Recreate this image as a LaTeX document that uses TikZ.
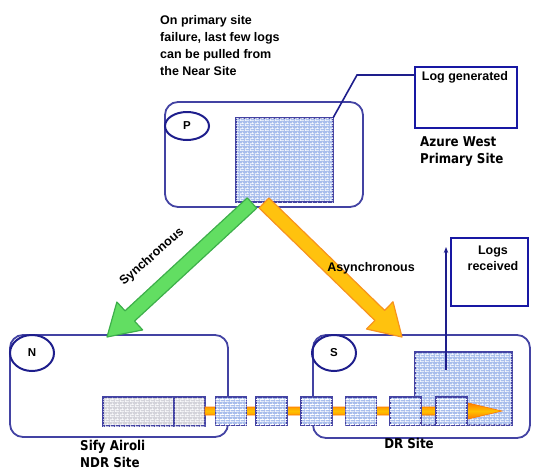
\documentclass[tikz,border=0pt]{standalone}
\usepackage{fontspec}
\setmainfont{Liberation Sans}
\newfontfamily\sitefont{DejaVu Sans}[FakeStretch=0.88]
\usetikzlibrary{shapes.geometric,patterns,calc,arrows.meta}
\definecolor{boxline}{HTML}{4343A3}
\definecolor{navy}{HTML}{1E1E8C}
\definecolor{hatchblue}{HTML}{A9BEEC}
\definecolor{hatchgrey}{HTML}{D3D3DA}
\definecolor{garrow}{HTML}{62DE62}
\definecolor{gline}{HTML}{3DAF4A}
\definecolor{oarrow}{HTML}{FFC20E}
\definecolor{oline}{HTML}{F7931E}
\definecolor{shipout}{HTML}{FF7A00}
\definecolor{shipin}{HTML}{FFC000}
\pgfdeclarepatternformonly{finebricks}{\pgfpointorigin}{\pgfpoint{5pt}{5pt}}{\pgfpoint{5pt}{5pt}}{%
  \pgfsetlinewidth{0.7pt}%
  \pgfpathmoveto{\pgfpoint{0pt}{0.35pt}}\pgfpathlineto{\pgfpoint{5pt}{0.35pt}}%
  \pgfpathmoveto{\pgfpoint{0pt}{2.85pt}}\pgfpathlineto{\pgfpoint{5pt}{2.85pt}}%
  \pgfpathmoveto{\pgfpoint{0.35pt}{0pt}}\pgfpathlineto{\pgfpoint{0.35pt}{2.5pt}}%
  \pgfpathmoveto{\pgfpoint{2.85pt}{2.5pt}}\pgfpathlineto{\pgfpoint{2.85pt}{5pt}}%
  \pgfusepath{stroke}}
\newcommand{\fatarrow}[6]{%
  \draw[#6] ($(#1)!#3!90:(#2)$) -- ($(#2)!#5!(#1)!#3!90:(#2)$) -- ($(#2)!#5!(#1)!#4!90:(#2)$) -- (#2)
   -- ($(#2)!#5!(#1)!#4!-90:(#2)$) -- ($(#2)!#5!(#1)!#3!-90:(#2)$) -- ($(#1)!#3!-90:(#2)$) -- cycle;}
\begin{document}
\begin{tikzpicture}[x=1pt,y=-1pt,
  site/.style={draw=boxline, line width=1.8pt, rounded corners=13pt, inner sep=0, outer sep=0},
  tag/.style={ellipse, draw=navy, line width=2pt, minimum width=44pt, inner sep=0, font=\bfseries\fontsize{11.5}{13}\selectfont},
  store/.style={draw=boxline, line width=1.8pt, fill=hatchblue, inner sep=0, outer sep=0,
     postaction={pattern=finebricks, pattern color=white}},
  greystore/.style={store, fill=hatchgrey},
  logbox/.style={draw=navy!80!blue, line width=2pt, inner sep=0, outer sep=0},
  lbl/.style={font=\bfseries\fontsize{12.5}{16}\selectfont, inner sep=0},
  sitelbl/.style={font=\sitefont\bfseries\fontsize{13.5}{17.5}\selectfont, inner sep=0, align=left},
  link/.style={draw=navy, line width=1.6pt}
]
\useasboundingbox (0,0) rectangle (534,471);

% site boxes
\node[site, minimum width=198pt, minimum height=105pt] (P) at (264,154.5) {};
\node[site, minimum width=218pt, minimum height=102pt] (N) at (119,386) {};
\node[site, minimum width=217pt, minimum height=103pt] (S) at (421.5,386.5) {};
\node[tag, minimum height=28pt] (Pt) at (187,126) {P};
\node[tag, minimum height=36pt] (Nt) at (32,353) {N};
\node[tag, minimum height=36pt] (St) at (334,353) {S};

% note
\node[font=\bfseries\fontsize{12.5}{17}\selectfont, align=left, anchor=north west, inner sep=0] (note) at (160,15)
  {On primary site\\failure, last few logs\\can be pulled from\\the Near Site};

% primary store and log generated
\node[store, minimum width=97pt, minimum height=84pt] (Pr) at (284.5,160) {};
\node[logbox, minimum width=102pt, minimum height=61pt] (LG) at (466,97.5) {};
\node[font=\bfseries\fontsize{12.5}{14}\selectfont, inner sep=0] (LGt) at (465,77) {Log generated};
\coordinate (bend) at (357,75);
\draw[link] (Pr.north east) -- (bend) -- (bend -| LG.west);
\node[sitelbl, anchor=west] (az) at (420,151.5) {Azure West\\Primary Site};

% DR store and logs received
\node[store, minimum width=97pt, minimum height=73pt] (Sr) at (463.5,388.5) {};
\node[logbox, minimum width=77pt, minimum height=68pt] (LR) at (489.5,272) {};
\node[font=\bfseries\fontsize{12.5}{16}\selectfont, align=center, inner sep=0] (LRt) at (493,258) {Logs\\received};
\coordinate (up0) at (446,370);
\coordinate (up1) at (446,247);
\draw[draw=navy, line width=1.2pt, -{Stealth[length=6pt,width=4.5pt]}] (up0) -- (up1);

% sync / async arrows
\coordinate (gA) at (252,203);
\coordinate (gB) at (107,337);
\coordinate (oA) at (264,203);
\coordinate (oB) at (402,337);
\fatarrow{gA}{gB}{7pt}{19pt}{31pt}{draw=gline, fill=garrow, line width=1.2pt, line join=round}
\fatarrow{oA}{oB}{7pt}{19pt}{31pt}{draw=oline, fill=oarrow, line width=1.2pt, line join=round}
\node[lbl, rotate=41] (sync) at (152,257) {Synchronous};
\node[lbl] (async) at (371,268) {Asynchronous};

% near site store
\node[greystore, minimum width=71pt, minimum height=29pt] (G1) at (138.5,411.5) {};
\node[greystore, minimum width=31pt, minimum height=29pt] (G2) at (189.5,411.5) {};

% log shipping line
\coordinate (lA) at (205,411);
\coordinate (lB) at (502,411);
\fatarrow{lA}{lB}{4pt}{8.5pt}{36pt}{draw=shipout, line width=0.6pt, top color=shipout, bottom color=shipout, middle color=shipin}

% shipped log blocks
\foreach \i/\x in {1/231,2/271.5,3/316.5,4/361,5/405.5,6/451.5}
  \node[store, minimum width=31pt, minimum height=28pt] (q\i) at (\x,411) {};

% site names
\node[sitelbl, anchor=west] (nname) at (80,454) {Sify Airoli\\NDR Site};
\node[sitelbl] (sname) at (409,443) {DR Site};
\end{tikzpicture}
\end{document}
